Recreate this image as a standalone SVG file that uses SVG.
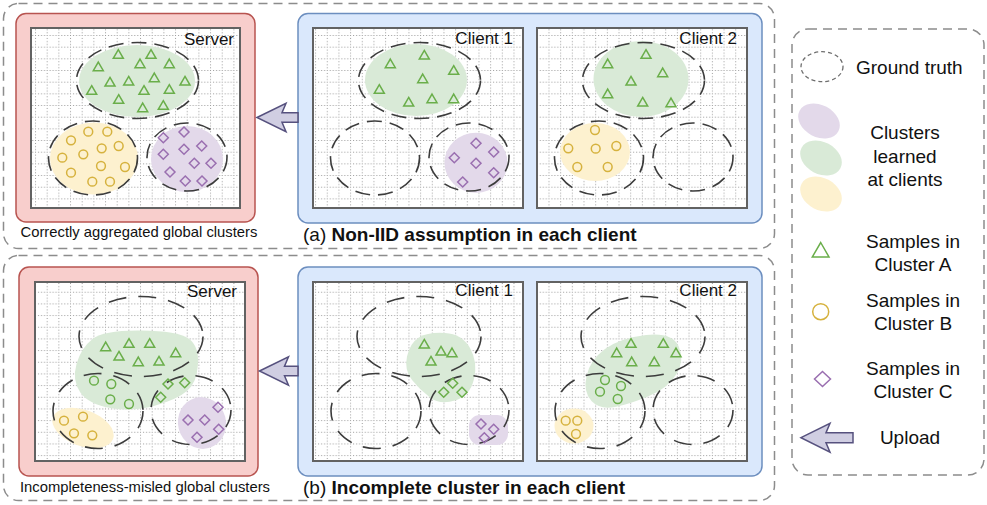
<svg xmlns="http://www.w3.org/2000/svg" xmlns:xlink="http://www.w3.org/1999/xlink" width="987" height="505" viewBox="0 0 987 505">
<style>
text{font-family:"Liberation Sans",Arial,sans-serif;fill:#111}
.outer{fill:none;stroke:#8c8c8c;stroke-width:1.5;stroke-dasharray:9 6}
.red{fill:#f8cecc;stroke:#b85450;stroke-width:1.5}
.blue{fill:#dae8fc;stroke:#6c8ebf;stroke-width:1.5}
.grid{fill:url(#gridpat);stroke:#626262;stroke-width:2}
.gt{fill:none;stroke:#3c3c3c;stroke-width:1.6;stroke-dasharray:15 8}
.gtb{fill:none;stroke:#3c3c3c;stroke-width:1.6;stroke-dasharray:18 12}
.fg{fill:#d9ead7}
.fy{fill:#fdf1cf}
.fp{fill:#e3d9ea}
.sg{fill:none;stroke:#6aae4a;stroke-width:1.5}
.sy{fill:none;stroke:#d6b23e;stroke-width:1.5}
.sp{fill:none;stroke:#9a6fb0;stroke-width:1.5}
.arrow{fill:#d0cee2;stroke:#56517e;stroke-width:1.5;stroke-linejoin:miter}
.lbl{font-size:17px}
.cap{font-size:14.8px}
.sub{font-size:19px}
.leg{font-size:19px;text-anchor:middle}
</style>
<defs>
<pattern id="gridpat" width="11.67" height="11.67" patternUnits="userSpaceOnUse" x="0" y="0">
<rect width="11.67" height="11.67" fill="#ffffff"/>
<path d="M0,0.5 H11.67 M0.5,0 V11.67" stroke="#9a9a9a" stroke-width="1" stroke-dasharray="1 2" fill="none"/>
</pattern>
<path id="tri" d="M0,-4.6 L5,4 L-5,4 Z"/>
<circle id="cir" cx="0" cy="0" r="4.4"/>
<path id="dia" d="M0,-5 L5,0 L0,5 L-5,0 Z"/>
<g id="gtTop">
<ellipse class="gt" cx="106.5" cy="52.5" rx="61" ry="38"/>
<ellipse class="gt" cx="62" cy="130" rx="44.5" ry="37"/>
<ellipse class="gt" cx="156" cy="129" rx="40" ry="34"/>
</g>
<g id="gtBot">
<ellipse class="gtb" cx="106" cy="54.5" rx="62" ry="40"/>
<ellipse class="gtb" cx="63" cy="129" rx="45" ry="37.5"/>
<ellipse class="gtb" cx="156" cy="128" rx="40" ry="34.5"/>
</g>
</defs>

<rect width="987" height="505" fill="#ffffff"/>

<g id="section-a">
<rect class="outer" x="3.5" y="3.5" width="771" height="245" rx="15"/>
<text class="sub" x="303" y="240.5">(a) <tspan font-weight="bold">Non-IID assumption in each client</tspan></text>
</g>
<g id="section-b">
<rect class="outer" x="3.5" y="255.5" width="771" height="245" rx="15"/>
<text class="sub" x="303" y="494">(b) <tspan font-weight="bold">Incomplete cluster in each client</tspan></text>
</g>

<g id="server-a">
<rect class="red" x="16" y="13.5" width="239" height="208.5" rx="10"/>
<rect class="grid" x="31" y="28" width="209" height="180"/>
<ellipse class="fg" cx="137" cy="81" rx="58" ry="36"/>
<ellipse class="fy" cx="94" cy="158.5" rx="44" ry="36"/>
<ellipse class="fp" cx="187" cy="159" rx="36" ry="33"/>
<use href="#gtTop" x="31" y="28"/>
<g class="sg">
<use href="#tri" x="118.3" y="54.3"/><use href="#tri" x="151" y="54.3"/><use href="#tri" x="98.3" y="66.7"/><use href="#tri" x="140" y="63.7"/><use href="#tri" x="169.3" y="63.7"/><use href="#tri" x="110" y="82"/><use href="#tri" x="128.7" y="81"/><use href="#tri" x="154.3" y="77.7"/><use href="#tri" x="185" y="81"/><use href="#tri" x="91.7" y="90.3"/><use href="#tri" x="144" y="90.3"/><use href="#tri" x="169.3" y="89.3"/><use href="#tri" x="118.7" y="99.3"/><use href="#tri" x="142.7" y="107.7"/><use href="#tri" x="163.3" y="105.3"/>
</g>
<g class="sy">
<use href="#cir" x="88.3" y="131.7"/><use href="#cir" x="107.3" y="131.7"/><use href="#cir" x="71" y="140.3"/><use href="#cir" x="101.7" y="148.3"/><use href="#cir" x="118.7" y="146"/><use href="#cir" x="62.3" y="157.7"/><use href="#cir" x="83.3" y="154.3"/><use href="#cir" x="101" y="166"/><use href="#cir" x="125" y="167"/><use href="#cir" x="71" y="172.7"/><use href="#cir" x="92.3" y="181.7"/><use href="#cir" x="110" y="181.7"/>
</g>
<g class="sp">
<use href="#dia" x="184" y="132"/><use href="#dia" x="163.3" y="137.7"/><use href="#dia" x="184" y="149.3"/><use href="#dia" x="201.7" y="146"/><use href="#dia" x="163.3" y="154.3"/><use href="#dia" x="194.3" y="163.3"/><use href="#dia" x="211" y="163.3"/><use href="#dia" x="170" y="172"/><use href="#dia" x="185.3" y="181"/><use href="#dia" x="202" y="181"/>
</g>
<text class="lbl" x="234" y="44.5" text-anchor="end">Server</text>
<text class="cap" x="20.5" y="237.3">Correctly aggregated global clusters</text>
</g>

<g id="clients-a">
<rect class="blue" x="298" y="13.5" width="464" height="209.5" rx="10"/>
<g id="client1-a">
<rect class="grid" x="313" y="28" width="210" height="180"/>
<ellipse class="fg" cx="416" cy="80" rx="51" ry="36"/>
<ellipse class="fp" cx="476" cy="162.7" rx="31.5" ry="30"/>
<use href="#gtTop" x="313" y="28"/>
<g class="sg">
<use href="#tri" x="390.3" y="63.7"/><use href="#tri" x="424.3" y="55"/><use href="#tri" x="453.7" y="70.3"/><use href="#tri" x="422.7" y="78.7"/><use href="#tri" x="379.3" y="89.3"/><use href="#tri" x="408.7" y="102"/><use href="#tri" x="432" y="98.7"/><use href="#tri" x="453.7" y="98.7"/>
</g>
<g class="sp">
<use href="#dia" x="476" y="143.3"/><use href="#dia" x="454.3" y="157.7"/><use href="#dia" x="493.7" y="152"/><use href="#dia" x="476" y="163.3"/><use href="#dia" x="493.7" y="172.7"/><use href="#dia" x="462.7" y="182"/>
</g>
<text class="lbl" x="513" y="43.5" text-anchor="end">Client 1</text>
</g>
<g id="client2-a">
<rect class="grid" x="537" y="28" width="210" height="180"/>
<ellipse class="fg" cx="641" cy="79" rx="47.5" ry="38"/>
<ellipse class="fy" cx="595" cy="152" rx="35" ry="29"/>
<use href="#gtTop" x="537" y="28"/>
<g class="sg">
<use href="#tri" x="607.7" y="63.7"/><use href="#tri" x="646" y="54.3"/><use href="#tri" x="662.7" y="72.7"/><use href="#tri" x="631" y="81"/><use href="#tri" x="607.7" y="93.7"/><use href="#tri" x="642.7" y="102"/><use href="#tri" x="671" y="102.7"/>
</g>
<g class="sy">
<use href="#cir" x="595" y="130"/><use href="#cir" x="568.3" y="148.3"/><use href="#cir" x="595.7" y="148.7"/><use href="#cir" x="616.3" y="146"/><use href="#cir" x="577.3" y="167"/><use href="#cir" x="607.7" y="167"/>
</g>
<text class="lbl" x="737" y="43.5" text-anchor="end">Client 2</text>
</g>
</g>

<g id="server-b">
<rect class="red" x="19" y="267" width="239" height="209" rx="10"/>
<rect class="grid" x="35" y="282" width="210" height="179"/>
<path class="fg" d="M92.5,339 Q104,330 141,330.5 Q178,331 188.5,338.5 Q199,346 198,364 Q197,382 187.5,390.5 Q178,399 155.5,405.5 Q133,412 110.5,408 Q88,404 80,392 Q72,380 76.5,364 Q81,348 92.5,339 Z"/>
<ellipse class="fy" cx="83" cy="428" rx="32" ry="18" transform="rotate(20 83 428)"/>
<ellipse class="fp" cx="202" cy="423" rx="24" ry="26" transform="rotate(-15 202 423)"/>
<use href="#gtBot" x="35" y="282"/>
<g class="sg">
<use href="#tri" x="105.7" y="346.7"/><use href="#tri" x="129" y="343.3"/><use href="#tri" x="149.7" y="343.3"/><use href="#tri" x="119" y="356"/><use href="#tri" x="138.3" y="361.7"/><use href="#tri" x="159" y="361"/><use href="#tri" x="175.7" y="352.7"/>
<use href="#cir" x="94" y="380.7"/><use href="#cir" x="111.3" y="384"/><use href="#cir" x="110.3" y="399.3"/><use href="#cir" x="129" y="404"/>
<use href="#dia" x="168" y="384"/><use href="#dia" x="184.7" y="382.7"/><use href="#dia" x="160.7" y="397.3"/>
</g>
<g class="sy">
<use href="#cir" x="64" y="420.7"/><use href="#cir" x="83" y="416.7"/><use href="#cir" x="74" y="433.3"/><use href="#cir" x="92.3" y="435.3"/>
</g>
<g class="sp">
<use href="#dia" x="218" y="407.3"/><use href="#dia" x="188" y="420"/><use href="#dia" x="204.7" y="420"/><use href="#dia" x="218.7" y="429.3"/><use href="#dia" x="197" y="437.3"/>
</g>
<text class="lbl" x="237" y="296.5" text-anchor="end">Server</text>
<text class="cap" x="20" y="492.3">Incompleteness-misled global clusters</text>
</g>

<g id="clients-b">
<rect class="blue" x="298" y="267" width="464" height="209" rx="10"/>
<g id="client1-b">
<rect class="grid" x="313" y="282" width="210" height="179"/>
<path class="fg" d="M419,337.5 Q428,332 445,333 Q462,334 470,348 Q478,362 474,379 Q470,396 455,400.5 Q440,405 430,397.5 Q420,390 412,380 Q404,370 407,356.5 Q410,343 419,337.5 Z"/>
<rect class="fp" x="469" y="415" width="39" height="30" rx="11"/>
<use href="#gtBot" x="313" y="282"/>
<g class="sg">
<use href="#tri" x="424.3" y="344"/><use href="#tri" x="441" y="351"/><use href="#tri" x="452" y="352.7"/><use href="#tri" x="431" y="361"/>
<use href="#dia" x="452.7" y="383.3"/><use href="#dia" x="443.7" y="392.3"/><use href="#dia" x="462" y="392.3"/>
</g>
<g class="sp">
<use href="#dia" x="481" y="424"/><use href="#dia" x="493.7" y="429.3"/><use href="#dia" x="484.3" y="437.7"/>
</g>
<text class="lbl" x="513" y="296" text-anchor="end">Client 1</text>
</g>
<g id="client2-b">
<rect class="grid" x="537" y="282" width="210" height="179"/>
<path class="fg" d="M605,349 Q620,338 646,335 Q672,332 678.5,346 Q685,360 676.5,374 Q668,388 649,396 Q630,404 615,407 Q600,410 591.5,401 Q583,392 586.5,376 Q590,360 605,349 Z"/>
<ellipse class="fy" cx="574" cy="426" rx="19.5" ry="17.5"/>
<use href="#gtBot" x="537" y="282"/>
<g class="sg">
<use href="#tri" x="631" y="343.3"/><use href="#tri" x="663.3" y="343.3"/><use href="#tri" x="616.7" y="352.7"/><use href="#tri" x="676" y="352.7"/><use href="#tri" x="631.7" y="361.7"/><use href="#tri" x="654.3" y="361.7"/>
<use href="#cir" x="605" y="380"/><use href="#cir" x="621" y="386"/><use href="#cir" x="600" y="391.7"/><use href="#cir" x="617.7" y="399"/>
</g>
<g class="sy">
<use href="#cir" x="565.7" y="420.7"/><use href="#cir" x="577.3" y="420.7"/><use href="#cir" x="576" y="434"/>
</g>
<text class="lbl" x="737" y="296" text-anchor="end">Client 2</text>
</g>
</g>

<g id="connectors">
<path class="arrow" d="M257,117.5 L286,103.3 L282,112.8 L298,112.8 L298,122.2 L282,122.2 L286,131.7 Z"/>
<path class="arrow" d="M259.5,371 L288.5,356.8 L284.5,366.3 L298,366.3 L298,375.7 L284.5,375.7 L288.5,385.2 Z"/>
</g>

<g id="legend">
<rect class="outer" x="792" y="29" width="192" height="446" rx="16"/>
<ellipse cx="822" cy="66.7" rx="21" ry="15" fill="none" stroke="#6e6e6e" stroke-width="1.3" stroke-dasharray="4 3"/>
<text x="856" y="74" style="font-size:19px">Ground truth</text>
<ellipse class="fp" cx="819" cy="121" rx="22" ry="16" transform="rotate(28 819 121)"/>
<ellipse class="fg" cx="821" cy="158" rx="22" ry="16" transform="rotate(28 821 158)"/>
<ellipse class="fy" cx="821" cy="194" rx="22" ry="16" transform="rotate(28 821 194)"/>
<text class="leg" x="905" y="139.3">Clusters</text>
<text class="leg" x="905" y="162.7">learned</text>
<text class="leg" x="905" y="186">at clients</text>
<path class="sg" d="M820.7,242.5 L829,257 L812.3,257 Z"/>
<text class="leg" x="913" y="247.5">Samples in</text>
<text class="leg" x="913" y="270.7">Cluster A</text>
<circle class="sy" cx="820.7" cy="311.7" r="8"/>
<text class="leg" x="913" y="307.3">Samples in</text>
<text class="leg" x="913" y="330.3">Cluster B</text>
<path class="sp" d="M822.5,371.5 L830.5,379 L822.5,386.5 L814.5,379 Z"/>
<text class="leg" x="913" y="375">Samples in</text>
<text class="leg" x="913" y="398">Cluster C</text>
<path class="arrow" d="M801,437.7 L830,423.3 L826,432.7 L853,432.7 L853,442.7 L826,442.7 L830,452.2 Z"/>
<text class="leg" x="910" y="444.3">Upload</text>
</g>
</svg>
